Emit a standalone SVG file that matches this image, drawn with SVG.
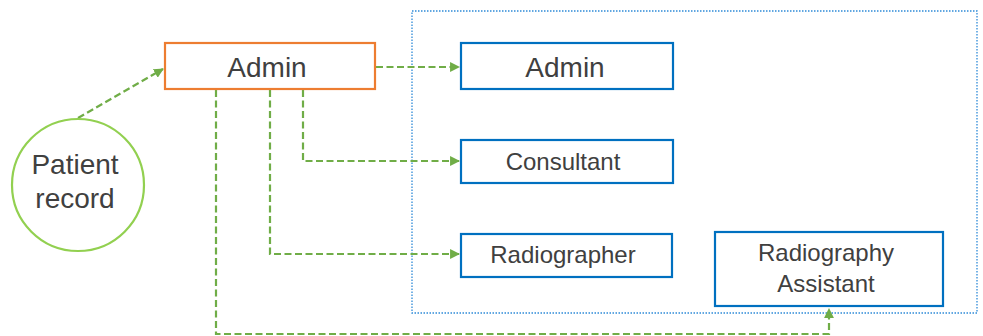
<svg xmlns="http://www.w3.org/2000/svg" width="983" height="336" viewBox="0 0 983 336">
  <style>
    .lbl { font-family: "Liberation Sans", Arial, sans-serif; fill: #404040; text-anchor: middle; }
    .big { font-size: 28px; }
    .mid { font-size: 24px; }
    .role { fill: #ffffff; stroke: #0070c0; stroke-width: 2.2; }
    .flow { fill: none; stroke: #70ad47; stroke-width: 2.2; stroke-dasharray: 7 3.5; }
  </style>
  <defs>
    <marker id="arrow" viewBox="0 0 10 10" refX="9" refY="5" markerWidth="4.5" markerHeight="4.5" orient="auto">
      <path d="M0,0 L10,5 L0,10 z" fill="#70ad47"/>
    </marker>
  </defs>

  <!-- access group boundary -->
  <rect id="group" x="412" y="11" width="565" height="302" fill="none" stroke="#2e8ad8" stroke-width="1.3" stroke-dasharray="1.5 1.5"/>

  <g id="connectors">
    <path class="flow" d="M78,118 L163,69" marker-end="url(#arrow)"/>
    <path class="flow" d="M376,67 L459,67" marker-end="url(#arrow)"/>
    <path class="flow" d="M303,90 L303,161 L459,161" marker-end="url(#arrow)"/>
    <path class="flow" d="M270,90 L270,254 L459,254" marker-end="url(#arrow)"/>
    <path class="flow" d="M216,90 L216,334 L829,334 L829,309" marker-end="url(#arrow)"/>
  </g>

  <g id="patient-record">
    <circle cx="78" cy="185" r="66" fill="#ffffff" stroke="#92d050" stroke-width="2.2"/>
    <text class="lbl big" x="75" y="174">Patient</text>
    <text class="lbl big" x="75" y="208">record</text>
  </g>

  <g id="admin-source">
    <rect x="165" y="43" width="210" height="46" fill="#ffffff" stroke="#ed7d31" stroke-width="2.2"/>
    <text class="lbl big" x="267" y="77">Admin</text>
  </g>

  <g id="admin">
    <rect class="role" x="461" y="43" width="212" height="46"/>
    <text class="lbl big" x="565" y="77">Admin</text>
  </g>

  <g id="consultant">
    <rect class="role" x="461" y="140" width="212" height="43"/>
    <text class="lbl mid" x="563" y="170">Consultant</text>
  </g>

  <g id="radiographer">
    <rect class="role" x="461" y="234" width="211" height="43"/>
    <text class="lbl mid" x="563" y="263">Radiographer</text>
  </g>

  <g id="radiography-assistant">
    <rect class="role" x="715" y="232" width="228" height="74"/>
    <text class="lbl mid" x="826" y="261">Radiography</text>
    <text class="lbl mid" x="826" y="292">Assistant</text>
  </g>
</svg>
